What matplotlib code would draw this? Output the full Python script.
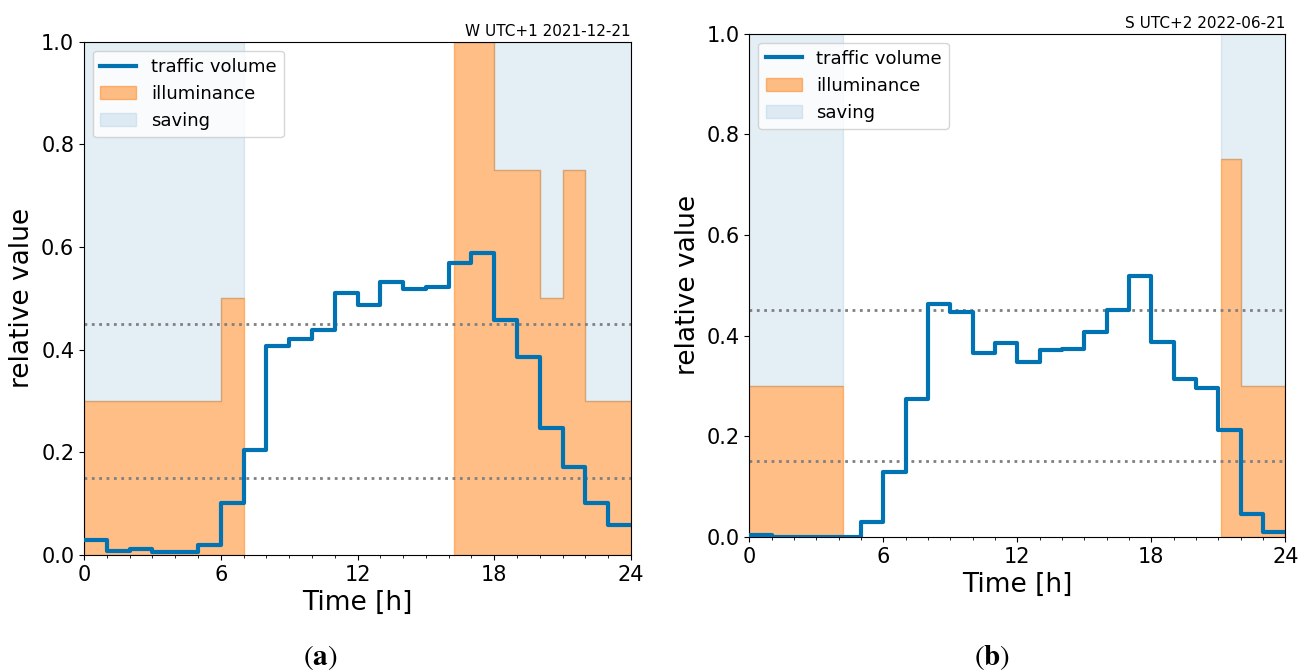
import numpy as np
import matplotlib
matplotlib.use("Agg")
import matplotlib.pyplot as plt
from matplotlib.ticker import MultipleLocator

# ---- data ----
hours = np.arange(25)
traffic_w = [0.030, 0.008, 0.011, 0.005, 0.005, 0.020, 0.102, 0.204, 0.408, 0.421,
             0.439, 0.510, 0.488, 0.532, 0.519, 0.523, 0.569, 0.588, 0.457, 0.385,
             0.247, 0.172, 0.101, 0.059]
traffic_s = [0.004, 0.0, 0.0, 0.0, 0.0, 0.029, 0.129, 0.274, 0.462, 0.447,
             0.366, 0.386, 0.348, 0.371, 0.374, 0.408, 0.451, 0.519, 0.388, 0.313,
             0.295, 0.212, 0.046, 0.009]
illum_w_edges = [0, 6, 7, 16.25, 18, 20, 21, 22, 24]
illum_w_levels = [0.3, 0.5, 0.0, 1.0, 0.75, 0.5, 0.75, 0.3]
illum_s_edges = [0, 4.2, 21.12, 22, 24]
illum_s_levels = [0.3, 0.0, 0.75, 0.3]
thresholds = [0.45, 0.15]
titles = ["W UTC+1 2021-12-21", "S UTC+2 2022-06-21"]
captions = ["a", "b"]

plt.rcParams['mathtext.fontset'] = 'stix'

fig = plt.figure(figsize=(13.09, 6.72), dpi=100)
ax1 = fig.add_axes([84/1309, 1-555/672, (631-84)/1309, (555-41.7)/672])
ax2 = fig.add_axes([749.3/1309, 1-537/672, (1285.3-749.3)/1309, (537-33.5)/672])

line_color = '#0173b2'
orange = 'tab:orange'
blue = 'tab:blue'


def panel(ax, traffic, edges, levels, title):
    edges = np.asarray(edges, dtype=float)
    levels = np.asarray(levels, dtype=float)
    xs = np.repeat(edges, 2)[1:-1]
    ys = np.repeat(levels, 2)
    ill = ax.fill_between(xs, 0, ys, where=ys > 0, color=orange, alpha=0.5, lw=1,
                          label='illuminance', zorder=1)
    sav = ax.fill_between(xs, ys, 1, where=ys > 0, color=blue, alpha=0.12, lw=1,
                          label='saving', zorder=1)
    for t in thresholds:
        ax.axhline(t, color='gray', ls=':', lw=2, zorder=2)
    ln, = ax.step(hours, np.append(traffic, traffic[-1]), where='post', color=line_color,
                  lw=3, label='traffic volume', zorder=3)
    ax.set_xlim(0, 24)
    ax.set_ylim(0, 1)
    ax.xaxis.set_major_locator(MultipleLocator(6))
    ax.xaxis.set_minor_locator(MultipleLocator(1))
    ax.yaxis.set_major_locator(MultipleLocator(0.2))
    ax.tick_params(labelsize=15)
    ax.set_xlabel('Time [h]', fontsize=19)
    ax.set_ylabel('relative value', fontsize=19)
    ax.set_title(title, loc='right', fontsize=11, pad=4)
    ax.legend(handles=[ln, ill, sav], loc='upper left', fontsize=13)


panel(ax1, traffic_w, illum_w_edges, illum_w_levels, titles[0])
panel(ax2, traffic_s, illum_s_edges, illum_s_levels, titles[1])

fig.text(320/1309, 1-658/672, r'($\mathbf{%s}$)' % captions[0], fontsize=21,
         family='STIXGeneral', ha='center', va='center')
fig.text(992/1309, 1-658/672, r'($\mathbf{%s}$)' % captions[1], fontsize=21,
         family='STIXGeneral', ha='center', va='center')

fig.savefig('out.png', dpi=100)
